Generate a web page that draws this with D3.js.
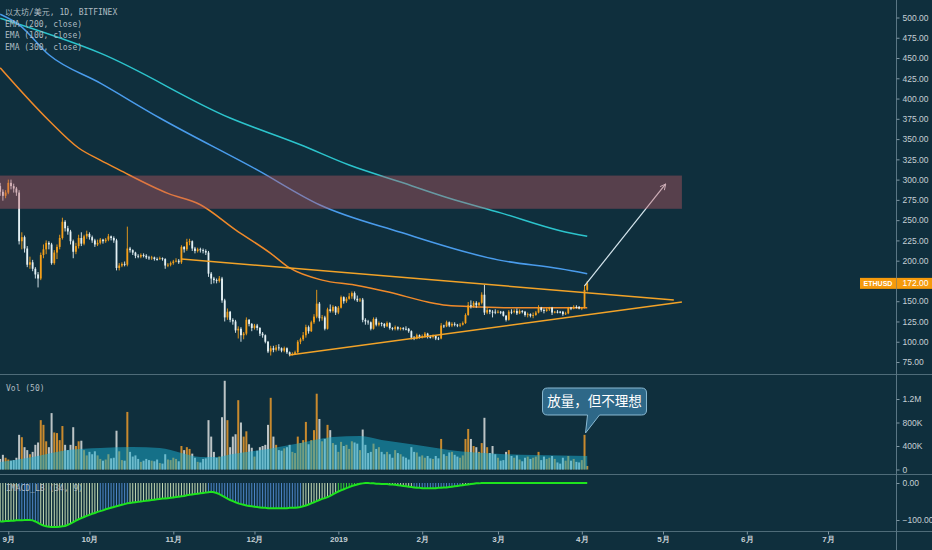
<!DOCTYPE html>
<html>
<head>
<meta charset="utf-8">
<script src="https://cdnjs.cloudflare.com/ajax/libs/d3/7.8.5/d3.min.js"></script>
<style>
html, body { margin: 0; padding: 0; background: #0f2f3d; }
svg { display: block; }
</style>
</head>
<body>
<svg id="chart"></svg>
<script>
// ---- data (daily ETH/USD candles, first one on startDate) ----
const startDate = '2018-08-29';
const firstOpen = 292;
const closes = [
    285, 280, 284,
    296, 292, 289, 284, 224, 229, 215, 195, 198, 190, 183, 178, 207, 214, 222, 220, 197, 210, 217, 228, 248, 240, 236, 224, 211, 218, 228, 221, 230, 233,
    229, 225, 220, 222, 226, 224, 226, 230, 228, 225, 191, 194, 196, 195, 215, 213, 210, 206, 205, 207, 206, 204, 203, 204, 202, 202, 203, 202, 194, 195, 197,
    199, 200, 198, 217, 214, 223, 224, 215, 212, 214, 213, 212, 210, 184, 178, 176, 175, 178, 151, 130, 137, 127, 125, 114, 116, 108, 110, 127, 122, 117,
    120, 117, 110, 108, 100, 88, 92, 90, 93, 92, 89, 92, 87, 84, 85, 87, 100, 103, 108, 118, 113, 124, 131, 147, 129, 130, 116, 140, 138, 143, 136,
    142, 155, 150, 153, 156, 160, 153, 151, 152, 127, 125, 124, 116, 128, 121, 123, 122, 119, 123, 117, 116, 118, 116, 117, 116, 116, 113, 105, 104, 108, 106,
    107, 110, 106, 106, 107, 104, 104, 120, 119, 124, 120, 122, 121, 120, 121, 123, 133, 145, 144, 148, 145, 148, 158, 136, 139, 137, 137, 136,
    137, 137, 132, 127, 137, 137, 138, 135, 138, 137, 133, 134, 132, 133, 136, 142, 139, 138, 140, 142, 136, 137, 137, 137, 134, 135, 142, 141, 143, 143, 141,
    142, 164, 172
];
const highs = [
    296, 288, 287,
    300, 300, 295, 291, 287, 235, 231, 218, 205, 201, 192, 186, 210, 220, 225, 224, 222, 213, 220, 232, 253, 250, 243, 238, 226, 222, 232, 235, 232, 237,
    235, 231, 227, 226, 228, 227, 228, 233, 231, 230, 227, 197, 198, 199, 242, 217, 214, 211, 208, 209, 209, 208, 206, 206, 205, 204, 205, 204, 203, 197, 199,
    201, 203, 202, 219, 218, 227, 227, 225, 217, 216, 216, 215, 214, 212, 186, 180, 178, 181, 180, 153, 141, 138, 129, 127, 119, 118, 112, 130, 128, 123,
    122, 122, 118, 112, 109, 101, 95, 95, 96, 97, 93, 94, 93, 88, 87, 89, 102, 105, 112, 121, 120, 126, 134, 164, 149, 133, 132, 142, 146, 145, 144,
    144, 157, 156, 155, 160, 162, 162, 157, 154, 154, 129, 127, 125, 130, 130, 125, 124, 123, 125, 124, 118, 120, 119, 118, 118, 119, 117, 114, 107, 110, 109,
    109, 112, 111, 108, 109, 108, 106, 123, 121, 126, 125, 124, 124, 122, 123, 125, 135, 149, 151, 150, 150, 149, 161, 170, 142, 140, 139, 140,
    139, 138, 138, 133, 139, 140, 140, 141, 140, 139, 138, 136, 135, 136, 138, 145, 143, 141, 142, 143, 143, 138, 139, 138, 138, 137, 143, 143, 145, 145, 144,
    143, 170, 175
];
const lows = [
    280, 274, 277,
    282, 288, 284, 280, 220, 214, 210, 192, 190, 187, 178, 167, 176, 203, 208, 214, 195, 195, 202, 214, 226, 236, 232, 220, 203, 208, 215, 218, 219, 227,
    226, 222, 217, 218, 220, 221, 222, 224, 225, 222, 188, 188, 192, 193, 193, 210, 207, 203, 203, 203, 204, 202, 201, 201, 200, 200, 201, 200, 190, 192, 193,
    195, 198, 196, 196, 210, 212, 219, 212, 209, 210, 210, 209, 207, 180, 171, 172, 172, 173, 148, 125, 127, 124, 121, 111, 104, 100, 103, 108, 119, 113,
    115, 114, 107, 105, 98, 86, 83, 87, 88, 89, 87, 87, 85, 82, 83, 84, 86, 97, 101, 105, 110, 112, 122, 129, 125, 126, 114, 115, 136, 136, 133,
    134, 141, 147, 148, 152, 153, 151, 149, 149, 124, 121, 121, 114, 115, 119, 119, 119, 117, 118, 115, 114, 114, 114, 114, 114, 114, 111, 103, 102, 103, 104,
    104, 105, 104, 104, 104, 102, 102, 103, 117, 118, 118, 118, 119, 118, 118, 120, 122, 132, 141, 142, 142, 144, 146, 133, 134, 134, 130, 134,
    135, 134, 131, 125, 126, 134, 135, 133, 134, 135, 131, 130, 130, 129, 132, 135, 137, 135, 137, 138, 133, 135, 135, 135, 132, 133, 134, 139, 140, 141, 140,
    139, 141, 162
];
// daily volume, thousands
const volumesK = [
    180, 250, 200,
    170, 150, 160, 200, 590, 550, 380, 330, 260, 300, 420, 460, 840, 760, 480, 380, 960, 630, 620, 500, 740, 420, 330, 420, 720, 400, 480, 490, 330, 240,
    300, 260, 310, 240, 180, 150, 170, 260, 190, 200, 660, 310, 160, 150, 980, 300, 220, 240, 180, 130, 150, 180, 160, 150, 140, 170, 110, 100, 260, 170, 160,
    200, 180, 140, 400, 330, 380, 350, 270, 200, 130, 120, 180, 190, 840, 560, 300, 200, 220, 890, 1510, 840, 380, 560, 600, 1180, 800, 560, 650, 430, 370,
    220, 320, 380, 400, 420, 760, 1220, 560, 420, 330, 320, 360, 380, 420, 300, 280, 560, 450, 500, 810, 430, 500, 670, 1290, 860, 480, 520, 760, 670, 450, 420,
    300, 470, 400, 420, 350, 480, 460, 440, 330, 680, 420, 280, 300, 440, 350, 380, 300, 260, 300, 260, 200, 330, 280, 260, 220, 200, 170, 380, 300, 290, 220,
    240, 200, 230, 190, 180, 230, 190, 520, 260, 230, 290, 300, 250, 220, 200, 240, 520, 690, 520, 400, 380, 300, 450, 880, 380, 280, 400, 260,
    200, 150, 160, 300, 330, 230, 200, 240, 170, 140, 200, 220, 180, 200, 220, 300, 160, 220, 180, 200, 230, 180, 120, 100, 200, 150, 230, 150, 180, 130, 120,
    160, 590, 60
];
// IMACD_LB (34, 9) daily value
const macdValues = [
    -104, -104, -103, -103, -102, -102, -101, -101, -101, -100, -100, -100, -101,
    -104, -108, -112, -115, -117, -118, -119, -119, -119, -118, -117, -116,
    -113, -110, -106, -102, -98, -95, -92, -89, -86, -83, -81, -78,
    -76, -74, -71, -69, -67, -65, -63, -61, -59, -57, -55, -54,
    -53, -52, -51, -50, -49, -48, -47, -46, -45, -44, -43, -42, -42, -41, -40,
    -39, -38, -37, -36, -35, -33, -32, -31, -30, -29, -28, -27, -26, -25, -24,
    -25, -27, -30, -34, -38, -42, -46,
    -49, -52, -55, -57, -59, -61, -62, -63, -64, -65, -66, -67, -67,
    -68, -68, -68, -68, -68, -68, -68, -68, -67, -67, -67, -66,
    -65, -63, -61, -58, -55, -52, -49, -46, -43, -41, -38, -35, -31, -27, -23,
    -20, -17, -14, -11, -8, -6, -4, -2,
    -1, 0, 0, -1, -1, -2, -2, -3, -3, -3, -4, -4,
    -5, -6, -7, -8, -9, -10, -11, -12, -13, -13,
    -14, -14, -14, -14, -14, -14, -13, -13, -12, -12,
    -11, -10, -9, -8, -7, -6, -5, -4, -3, -2,
    -1, -1, 0, 0, 0, 0, 0, 0, 0, 0, 0, 0, 0, 0, 0, 0, 0, 0, 0, 0, 0, 0,
    0, 0, 0, 0, 0, 0, 0, 0, 0, 0, 0, 0, 0, 0, 0, 0, 0, 0, 0, 0
];
const macdStates = [
    {from: '2018-09-05', to: '2018-09-12', state: 'falling'},
    {from: '2018-10-05', to: '2018-10-15', state: 'falling'},
    {from: '2018-11-14', to: '2018-12-18', state: 'falling'},
    {from: '2019-01-01', to: '2019-01-09', state: 'strong'},
    {from: '2019-01-29', to: '2019-02-15', state: 'falling'}
];

// moving averages
const ema200 = [
    ['2018-08-29', 438], ['2018-09-16', 373], ['2018-09-27', 339], ['2018-10-05', 324], ['2018-10-12', 312],
    ['2018-10-30', 283], ['2018-11-11', 269], ['2018-11-24', 238], ['2018-12-07', 209], ['2018-12-14', 191],
    ['2018-12-26', 176], ['2019-01-07', 170], ['2019-01-20', 161], ['2019-02-03', 149], ['2019-02-10', 145],
    ['2019-02-22', 143], ['2019-03-06', 142], ['2019-04-03', 142]
];
const ema100 = [
    ['2018-08-29', 504], ['2018-09-05', 491], ['2018-09-16', 454], ['2018-10-05', 419], ['2018-10-27', 376],
    ['2018-12-02', 312], ['2018-12-25', 269], ['2019-01-24', 235], ['2019-03-01', 201], ['2019-03-24', 190],
    ['2019-04-03', 184]
];
const ema300 = [
    ['2018-08-29', 499], ['2018-10-05', 456], ['2018-11-22', 376], ['2018-12-18', 343], ['2019-01-05', 318],
    ['2019-01-24', 297], ['2019-02-11', 277], ['2019-03-02', 259], ['2019-03-24', 237], ['2019-04-03', 230]
];
const volMA = [
    ['2018-08-29', 128000], ['2018-09-10', 213000], ['2018-09-23', 332000], ['2018-10-05', 366000], ['2018-10-17', 383000],
    ['2018-10-27', 366000], ['2018-11-04', 281000], ['2018-11-11', 213000], ['2018-11-17', 213000], ['2018-11-23', 264000],
    ['2018-12-06', 349000], ['2018-12-18', 451000], ['2018-12-30', 553000], ['2019-01-09', 570000], ['2019-01-17', 502000],
    ['2019-01-30', 417000], ['2019-02-11', 332000], ['2019-03-02', 264000], ['2019-03-14', 247000], ['2019-04-03', 230000]
];

// drawings
const resistanceZone = {from: '2018-08-20', to: '2019-05-08', low: 264, high: 305};
const trendLines = [
    {from: ['2018-11-04', 202], to: ['2019-05-05', 151.5]},
    {from: ['2018-12-14', 83.6], to: ['2019-05-08', 149]}
];
const breakoutArrow = {from: ['2019-04-02', 169], to: ['2019-05-02', 294.6]};
const noteText = '放量，但不理想';
const noteAnchor = ['2019-04-02', 604000];
const lastPrice = 172;
const symbolLabel = 'ETHUSD';

// axes (175 sits under the last price tag, so it is not shown)
const monthTicks = ['2018-09-01', '2018-10-01', '2018-11-01', '2018-12-01', '2019-01-01', '2019-02-01',
    '2019-03-01', '2019-04-01', '2019-05-01', '2019-06-01', '2019-07-01'];
const monthLabels = ['9月', '10月', '11月', '12月', '2019', '2月', '3月', '4月', '5月', '6月', '7月'];
const priceTicks = [75, 100, 125, 150, 200, 225, 250, 275, 300, 325, 350, 375, 400, 425, 450, 475, 500];
const volTicks = [0, 400000, 800000, 1200000];
const volTickLabels = ['0', '400K', '800K', '1.2M'];
const macdTicks = [0, -100];
const legendLines = ['以太坊/美元, 1D, BITFINEX', 'EMA (200, close)', 'EMA (100, close)', 'EMA (300, close)'];

// ---- layout ----
const width = 932, height = 550;
const axisX = 896;
const pane = {priceBottom: 374.5, volBottom: 474.5, macdBottom: 531.5};
const bg = '#0f2f3d';
const upColor = '#f5a01a', downColor = '#e4f1f5';
const monoFont = '"DejaVu Sans Mono", "Noto Sans CJK SC", monospace';
const axisFont = '"Liberation Sans", Arial, sans-serif';

const parseDate = d3.utcParse('%Y-%m-%d');
const day0 = parseDate(startDate);
const candles = closes.map(function(c, i) {
    return {
        date: d3.utcDay.offset(day0, i),
        open: i === 0 ? firstOpen : closes[i - 1],
        close: c,
        high: highs[i],
        low: lows[i],
        volume: volumesK[i] * 1000,
        macd: macdValues[i]
    };
});
const toPoints = arr => arr.map(d => ({date: parseDate(d[0]), value: d[1]}));

const x = d3.scaleUtc()
    .domain([parseDate('2018-09-01'), parseDate('2019-07-01')])
    .range([8.3, 828]);
const yPrice = d3.scaleLinear().domain([75, 500]).range([362, 17.5]);
const yVol = d3.scaleLinear().domain([0, 1200000]).range([469.5, 399]);
const yMacd = d3.scaleLinear().domain([-100, 0]).range([520, 483]);

const svg = d3.select('#chart').attr('width', width).attr('height', height);
svg.append('rect').attr('width', width).attr('height', height).attr('fill', bg);

const defs = svg.append('defs');
defs.append('clipPath').attr('id', 'clip-price').append('rect')
    .attr('x', 0).attr('y', 0).attr('width', axisX).attr('height', pane.priceBottom);
defs.append('clipPath').attr('id', 'clip-vol').append('rect')
    .attr('x', 0).attr('y', pane.priceBottom + 0.5).attr('width', axisX).attr('height', pane.volBottom - pane.priceBottom - 1);
defs.append('clipPath').attr('id', 'clip-macd').append('rect')
    .attr('x', 0).attr('y', pane.volBottom + 0.5).attr('width', axisX).attr('height', pane.macdBottom - pane.volBottom - 1);
defs.append('marker').attr('id', 'arrowhead')
    .attr('viewBox', '0 0 10 10').attr('refX', 9).attr('refY', 5)
    .attr('markerWidth', 7).attr('markerHeight', 7).attr('markerUnits', 'userSpaceOnUse')
    .attr('orient', 'auto')
    .append('path').attr('d', 'M1,1 L9,5 L1,9')
    .attr('fill', 'none').attr('stroke', '#d6e6ee').attr('stroke-width', 1.4);

// ---- price pane ----
const priceG = svg.append('g').attr('clip-path', 'url(#clip-price)');

const emaLine = d3.line().x(d => x(d.date)).y(d => yPrice(d.value)).curve(d3.curveMonotoneX);
[[ema300, '#2cc4cc'], [ema100, '#4a9cec'], [ema200, '#f08a2a']].forEach(function(s) {
    priceG.append('path').datum(toPoints(s[0]))
        .attr('d', emaLine)
        .attr('fill', 'none')
        .attr('stroke', s[1])
        .attr('stroke-width', 1.5);
});

// candles
const candleW = 1.8;
priceG.selectAll('line.wick')
    .data(candles)
    .enter()
    .append('line')
    .attr('class', 'wick')
    .attr('x1', d => x(d.date)).attr('x2', d => x(d.date))
    .attr('y1', d => yPrice(d.high)).attr('y2', d => yPrice(d.low))
    .attr('stroke', d => d.close > d.open ? upColor : downColor)
    .attr('stroke-width', 0.9);
priceG.selectAll('rect.body')
    .data(candles)
    .enter()
    .append('rect')
    .attr('class', 'body')
    .attr('x', d => x(d.date) - candleW / 2)
    .attr('y', d => yPrice(Math.max(d.open, d.close)))
    .attr('width', candleW)
    .attr('height', d => Math.max(0.9, Math.abs(yPrice(d.open) - yPrice(d.close))))
    .attr('fill', d => d.close > d.open ? upColor : downColor);

// triangle
trendLines.forEach(function(t) {
    priceG.append('line')
        .attr('x1', x(parseDate(t.from[0]))).attr('y1', yPrice(t.from[1]))
        .attr('x2', x(parseDate(t.to[0]))).attr('y2', yPrice(t.to[1]))
        .attr('stroke', '#f2a328')
        .attr('stroke-width', 1.5);
});

// target arrow
priceG.append('line')
    .attr('x1', x(parseDate(breakoutArrow.from[0]))).attr('y1', yPrice(breakoutArrow.from[1]))
    .attr('x2', x(parseDate(breakoutArrow.to[0]))).attr('y2', yPrice(breakoutArrow.to[1]))
    .attr('stroke', '#d6e6ee')
    .attr('stroke-width', 1.2)
    .attr('marker-end', 'url(#arrowhead)');

// resistance zone on top
priceG.append('rect')
    .attr('x', x(parseDate(resistanceZone.from)))
    .attr('y', yPrice(resistanceZone.high))
    .attr('width', x(parseDate(resistanceZone.to)) - x(parseDate(resistanceZone.from)))
    .attr('height', yPrice(resistanceZone.low) - yPrice(resistanceZone.high))
    .attr('fill', 'rgba(195, 90, 99, 0.4)');

// ---- volume pane ----
const volG = svg.append('g').attr('clip-path', 'url(#clip-vol)');
volG.selectAll('rect.vol')
    .data(candles)
    .enter()
    .append('rect')
    .attr('class', 'vol')
    .attr('x', d => x(d.date) - 1)
    .attr('y', d => yVol(d.volume))
    .attr('width', 2)
    .attr('height', d => yVol(0) - yVol(d.volume))
    .attr('fill', d => d.close > d.open ? '#c98a2e' : '#bcc4c6');

const volArea = d3.area()
    .x(d => x(d.date))
    .y0(yVol(0))
    .y1(d => yVol(d.value))
    .curve(d3.curveMonotoneX);
volG.append('path').datum(toPoints(volMA))
    .attr('d', volArea)
    .attr('fill', 'rgba(28, 178, 212, 0.5)');

// note callout
const nx = x(parseDate(noteAnchor[0])), ny = yVol(noteAnchor[1]);
const bx0 = nx - 42, bx1 = nx + 62, by0 = ny - 46, by1 = ny - 19, r = 5;
const calloutPath = [
    'M', bx0 + r, by0,
    'L', bx1 - r, by0, 'Q', bx1, by0, bx1, by0 + r,
    'L', bx1, by1 - r, 'Q', bx1, by1, bx1 - r, by1,
    'L', nx + 15, by1, 'L', nx + 1, ny - 1, 'L', nx + 3, by1,
    'L', bx0 + r, by1, 'Q', bx0, by1, bx0, by1 - r,
    'L', bx0, by0 + r, 'Q', bx0, by0, bx0 + r, by0, 'Z'
].join(' ');
svg.append('path').attr('d', calloutPath)
    .attr('fill', '#2e6888')
    .attr('stroke', '#8ab9d2')
    .attr('stroke-width', 1);
svg.append('text')
    .attr('x', (bx0 + bx1) / 2).attr('y', (by0 + by1) / 2)
    .attr('dy', '0.36em')
    .attr('text-anchor', 'middle')
    .attr('font-family', '"Noto Sans CJK SC", sans-serif')
    .attr('font-size', '13.5px')
    .attr('fill', '#ffffff')
    .text(noteText);

// ---- macd pane ----
const macdG = svg.append('g').attr('clip-path', 'url(#clip-macd)');
const macdColors = {falling: '#4d86c8', strong: '#3ccf3c', normal: '#c3d9b3'};
function macdState(date) {
    const hit = macdStates.find(s => date >= parseDate(s.from) && date <= parseDate(s.to));
    return hit ? hit.state : 'normal';
}
macdG.selectAll('line.hist')
    .data(candles.filter(d => d.macd !== 0))
    .enter()
    .append('line')
    .attr('x1', d => x(d.date)).attr('x2', d => x(d.date))
    .attr('y1', yMacd(0)).attr('y2', d => yMacd(d.macd))
    .attr('stroke', d => macdColors[macdState(d.date)])
    .attr('stroke-width', 1);
macdG.append('path').datum(candles)
    .attr('d', d3.line().x(d => x(d.date)).y(d => yMacd(d.macd)))
    .attr('fill', 'none')
    .attr('stroke', '#1ee41e')
    .attr('stroke-width', 2);

// ---- frame ----
[pane.priceBottom, pane.volBottom, pane.macdBottom].forEach(function(yy) {
    svg.append('line').attr('x1', 0).attr('x2', width).attr('y1', yy).attr('y2', yy)
        .attr('stroke', '#4f6c79').attr('stroke-width', 1);
});
svg.append('line').attr('x1', axisX + 0.5).attr('x2', axisX + 0.5).attr('y1', 0).attr('y2', height)
    .attr('stroke', '#5a7684').attr('stroke-width', 1);

function styleAxis(g) {
    g.select('.domain').remove();
    g.selectAll('.tick line').attr('stroke', '#7f96a2');
    g.selectAll('.tick text')
        .attr('fill', '#c6d0d5')
        .attr('font-family', axisFont)
        .attr('font-size', '8.5px');
}

svg.append('g')
    .attr('transform', 'translate(' + (axisX + 0.5) + ',0)')
    .call(d3.axisRight(yPrice).tickValues(priceTicks).tickFormat(d3.format('.2f')).tickSize(3).tickPadding(3))
    .call(styleAxis);
svg.append('g')
    .attr('transform', 'translate(' + (axisX + 0.5) + ',0)')
    .call(d3.axisRight(yVol).tickValues(volTicks).tickFormat((d, i) => volTickLabels[i]).tickSize(3).tickPadding(3))
    .call(styleAxis);
svg.append('g')
    .attr('transform', 'translate(' + (axisX + 0.5) + ',0)')
    .call(d3.axisRight(yMacd).tickValues(macdTicks).tickFormat(d3.format('.2f')).tickSize(3).tickPadding(3))
    .call(styleAxis);
svg.append('g')
    .attr('transform', 'translate(0,' + pane.macdBottom + ')')
    .call(d3.axisBottom(x).tickValues(monthTicks.map(parseDate)).tickFormat((d, i) => monthLabels[i]).tickSize(3).tickPadding(2))
    .call(styleAxis)
    .selectAll('.tick text').attr('font-weight', 'bold').attr('font-size', '8px');

// last price tag
const tagY = yPrice(lastPrice);
svg.append('rect').attr('x', 860).attr('y', tagY - 5.5).attr('width', 36).attr('height', 11).attr('fill', '#f59a0c');
svg.append('rect').attr('x', axisX + 0.5).attr('y', tagY - 5.5).attr('width', width - axisX).attr('height', 11).attr('fill', '#f59a0c');
svg.append('text').attr('x', 878).attr('y', tagY).attr('dy', '0.35em').attr('text-anchor', 'middle')
    .attr('font-family', axisFont).attr('font-size', '7px').attr('font-weight', 'bold').attr('fill', '#fff')
    .text(symbolLabel);
svg.append('text').attr('x', axisX + 6.5).attr('y', tagY).attr('dy', '0.35em')
    .attr('font-family', axisFont).attr('font-size', '8.5px').attr('fill', '#fff')
    .text(d3.format('.2f')(lastPrice));

// ---- legends ----
svg.selectAll('text.legend')
    .data(legendLines)
    .enter()
    .append('text')
    .attr('x', 5)
    .attr('y', (d, i) => 15 + i * 11.7)
    .attr('font-family', monoFont)
    .attr('font-size', '8px')
    .attr('fill', '#aebbc1')
    .text(d => d);
svg.append('text').attr('x', 6).attr('y', 391)
    .attr('font-family', monoFont).attr('font-size', '8px').attr('fill', '#aebbc1')
    .text('Vol (50)');
svg.append('text').attr('x', 6).attr('y', 491)
    .attr('font-family', monoFont).attr('font-size', '8px').attr('fill', '#aebbc1')
    .text('IMACD_LB (34, 9)');
</script>
</body>
</html>
